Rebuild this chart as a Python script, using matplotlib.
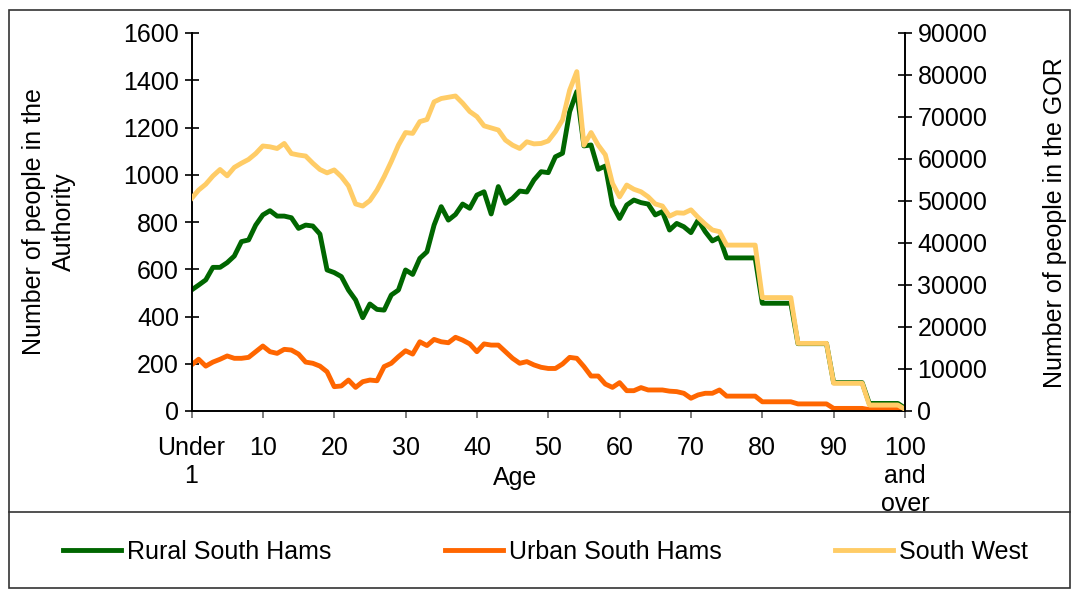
import matplotlib
matplotlib.use("Agg")
import matplotlib.pyplot as plt
from matplotlib.patches import Rectangle
from matplotlib.lines import Line2D

plt.rcParams['font.family'] = ['Liberation Sans', 'DejaVu Sans']

# Ages: index 0 = "Under 1" ... index 100 = "100 and over"
ages = list(range(101))

rural = [512, 533, 555, 608, 608, 628, 656, 717, 724, 787,
         830, 848, 825, 825, 818, 773, 787, 783, 749, 597,
         586, 569, 512, 470, 395, 453, 430, 427, 491, 512,
         597, 578, 646, 674, 787, 865, 808, 832, 876, 858,
         914, 928, 834, 950, 879, 900, 931, 927, 978, 1013,
         1009, 1076, 1091, 1267, 1352, 1122, 1126, 1023, 1037, 872,
         815, 872, 893, 882, 876, 830, 844, 766, 794, 780,
         755, 808, 759, 720, 735, 648, 648, 648, 648, 648,
         456, 456, 456, 456, 456, 285, 285, 285, 285, 285,
         120, 120, 120, 120, 120, 32, 32, 32, 32, 32,
         12]

urban = [195, 219, 190, 207, 219, 233, 223, 223, 227, 251,
         275, 251, 244, 261, 258, 241, 207, 202, 190, 166,
         103, 106, 131, 100, 124, 131, 128, 188, 202, 230,
         255, 241, 293, 277, 303, 293, 289, 312, 300, 284,
         251, 284, 279, 279, 251, 223, 202, 209, 195, 185,
         180, 180, 199, 227, 223, 188, 148, 148, 114, 100,
         120, 86, 86, 99, 89, 89, 89, 84, 82, 75,
         54, 68, 75, 75, 89, 63, 63, 63, 63, 63,
         39, 39, 39, 39, 39, 30, 30, 30, 30, 30,
         11, 11, 11, 11, 11, 6, 6, 6, 6, 6,
         2]

south_west = [50600, 52600, 54000, 55950, 57500, 56000, 58000, 59000, 59900, 61300,
              63100, 62900, 62500, 63700, 61300, 60950, 60700, 59000, 57500, 56700,
              57400, 55800, 53600, 49300, 48800, 50100, 52600, 55800, 59400, 63300,
              66300, 66100, 68900, 69400, 73600, 74400, 74700, 75000, 73300, 71300,
              70100, 67900, 67400, 66900, 64500, 63300, 62500, 64100, 63600, 63700,
              64300, 66500, 69300, 76400, 80800, 63300, 66300, 63300, 61000, 54200,
              51000, 53800, 52800, 52200, 51000, 49300, 48800, 46400, 47200, 47100,
              47900, 46100, 44500, 43100, 42700, 39500, 39500, 39500, 39500, 39500,
              27000, 27000, 27000, 27000, 27000, 16100, 16100, 16100, 16100, 16100,
              6600, 6600, 6600, 6600, 6600, 1430, 1430, 1430, 1430, 1430,
              400]

tick_pos = list(range(0, 101, 10))
tick_labels = ["Under\n1", "10", "20", "30", "40", "50", "60", "70", "80", "90",
               "100\nand\nover"]

FS = 18
W, H = 1073, 590

fig = plt.figure(figsize=(W / 100, H / 100), dpi=100)
ax = fig.add_axes([191.5 / W, 1 - 411 / H, (905 - 191.5) / W, 378 / H])

ax.plot(ages, rural, color="#006600", lw=3.5, label="Rural South Hams")
ax.plot(ages, urban, color="#FF6600", lw=3.5, label="Urban South Hams")
ax.set_xlim(0, 100)
ax.set_ylim(0, 1600)
ax.set_yticks(range(0, 1601, 200))

ax2 = ax.twinx()
ax2.plot(ages, south_west, color="#FFCC66", lw=3.5, label="South West")
ax2.set_ylim(0, 90000)
ax2.set_yticks(range(0, 90001, 10000))

ax.set_xticks(tick_pos)
ax.set_xticklabels(tick_labels, linespacing=1.2)

for a in (ax, ax2):
    a.spines["top"].set_visible(False)
    for s in a.spines.values():
        s.set_linewidth(1.4)
        s.set_color("black")
ax.spines["right"].set_visible(False)
ax2.spines["left"].set_visible(False)
ax2.spines["bottom"].set_visible(False)

ax.tick_params(axis="y", direction="inout", length=10, width=1.2, colors="black",
               labelsize=FS, pad=4)
ax2.tick_params(axis="y", direction="inout", length=10, width=1.2, colors="black",
                labelsize=FS, pad=4)
ax.tick_params(axis="x", direction="out", length=5, width=1.2, color="#666666",
               labelsize=FS, pad=13)

fig.text(49 / W, 1 - 222 / H, "Number of people in the\nAuthority", rotation=90,
         ha="center", va="center", fontsize=FS, multialignment="center",
         linespacing=1.3)
fig.text(1055 / W, 1 - 223 / H, "Number of people in the GOR", rotation=90,
         ha="center", va="center", fontsize=FS)
fig.text(515 / W, 1 - 478 / H, "Age", ha="center", va="center", fontsize=FS)

# outer frame and legend box
fig.add_artist(Rectangle((9 / W, 2 / H), (1061 / W), (578 / H), transform=fig.transFigure,
                         fill=False, edgecolor="#333333", lw=1.2))
fig.add_artist(Line2D([9 / W, 1070 / W], [1 - 512 / H, 1 - 512 / H], transform=fig.transFigure,
                      color="#333333", lw=1.2))

handles = ax.get_lines() + ax2.get_lines()
fig.legend(handles, [h.get_label() for h in handles], loc="center",
           bbox_to_anchor=(545.5 / W, 1 - 552 / H), ncol=3, frameon=False,
           fontsize=FS, handlelength=2.3, handletextpad=0.25, columnspacing=4.55)

fig.savefig("out.png", dpi=100)
